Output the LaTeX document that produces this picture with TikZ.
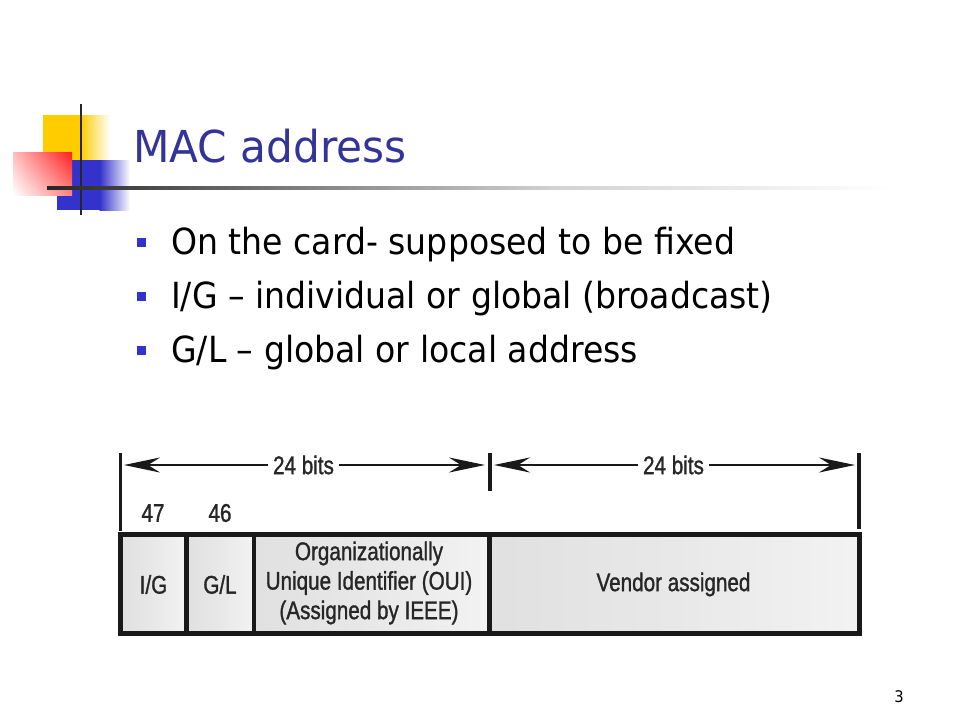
\documentclass[tikz,border=0pt]{standalone}
\usepackage{fontspec}
\setmainfont{DejaVu Sans}
\newfontfamily\tah[FakeStretch=0.92]{DejaVu Sans}
\newfontfamily\tahT[FakeStretch=0.96]{DejaVu Sans}
\newfontfamily\cnd[FakeStretch=0.81,FakeBold=1.2]{Liberation Sans}
\usetikzlibrary{arrows.meta,shadings}
\definecolor{titleblue}{RGB}{51,51,153}
\definecolor{bulletblue}{RGB}{51,51,204}
\definecolor{logoyellow}{RGB}{255,204,0}
\definecolor{logored}{RGB}{255,30,30}
\definecolor{logoblue}{RGB}{51,51,204}
\definecolor{ink}{RGB}{38,38,38}
\pgfdeclarehorizontalshading{rulefade}{100bp}{color(0bp)=(black!85); color(25bp)=(black!85); color(40bp)=(black!50); color(55bp)=(black!18); color(75bp)=(white); color(100bp)=(white)}
\pgfdeclarehorizontalshading{cellfade}{100bp}{color(0bp)=(black!12); color(25bp)=(black!12); color(50bp)=(black!9); color(75bp)=(black!5); color(100bp)=(black!5)}
\tikzset{
  bodytext/.style={anchor=base west, inner sep=0pt, font=\tah\fontsize{36}{43}\selectfont},
  bulletsq/.style={fill=bulletblue, minimum size=9pt, inner sep=0pt, draw=none},
  lbl/.style={inner sep=0pt, text=ink, font=\cnd\fontsize{25.5}{29.5}\selectfont, align=center},
  bitlbl/.style={lbl, fill=white, inner xsep=5pt, inner ysep=2pt},
  cell/.style={shading=cellfade},
  frame/.style={draw=black!90, line width=4.5pt},
  tick/.style={draw=black!90, line width=3.5pt},
  dimarrow/.style={draw=black!90, line width=2.8pt},
  bigtip/.tip={Stealth[length=36pt, width=15pt, inset=12pt]}
}
\begin{document}
\begin{tikzpicture}[x=1pt, y=-1pt]
\useasboundingbox (0,0) rectangle (960,720);
\fill[white] (0,0) rectangle (960,720);
% logo
\fill[logoyellow] (43,115) rectangle (81,160);
\shade[left color=logoyellow, right color=white] (80.5,115) rectangle (110,160);
\fill[logoblue] (57,160) rectangle (100,210);
\shade[left color=logoblue, right color=white] (99.5,160) rectangle (130,210);
\shade[upper right=logored, lower right=logored!55!white, upper left=logored!30!white, lower left=white] (13,152) rectangle (72,195);
\draw[black!85, line width=2.2pt] (81,104) -- (81,215);
\shade[shading=rulefade] (47,186.5) rectangle (890,189.5);
% title
\node[anchor=base west, inner sep=0pt, text=titleblue, font=\tahT\fontsize{44}{52}\selectfont] (title) at (133,162) {MAC address};
% bullets
\node[bulletsq] (b1) at (141.5,242) {};
\node[bulletsq] (b2) at (141.5,296) {};
\node[bulletsq] (b3) at (141.5,350) {};
\node[bodytext] (t1) at (171,254) {On the card- supposed to be fixed};
\node[bodytext] (t2) at (171,308) {I/G – individual or global (broadcast)};
\node[bodytext] (t3) at (171,362) {G/L – global or local address};
% bit field cells
\shade[cell] (120.5,534.5) rectangle (186.5,633.5);
\shade[cell] (186.5,534.5) rectangle (254,633.5);
\shade[cell] (254,534.5) rectangle (489.5,633.5);
\shade[cell] (489.5,534.5) rectangle (859.5,633.5);
\node[lbl] (ig) at (153.5,584.5) {I/G};
\node[lbl] (gl) at (220,584.5) {G/L};
\node[lbl] (oui) at (369,583) {Organizationally\\Unique Identifier (OUI)\\(Assigned by IEEE)};
\node[lbl] (vendor) at (673.5,584.5) {Vendor assigned};
\draw[frame] (120.5,534.5) rectangle (859.5,633.5);
\draw[frame] (186.5,534.5) -- (186.5,633.5);
\draw[frame] (254,534.5) -- (254,633.5);
\draw[frame] (489.5,534.5) -- (489.5,633.5);
% bit numbers
\node[lbl] (n47) at (153,513) {47};
\node[lbl] (n46) at (220,513) {46};
% dimension marks
\coordinate (lt1) at (120.5,453);
\coordinate (lt2) at (120.5,531);
\coordinate (mt1) at (490,453);
\coordinate (mt2) at (490,491);
\coordinate (rt1) at (859,453);
\coordinate (rt2) at (859,529);
\draw[tick, line width=3pt] (lt1) -- (lt2);
\draw[tick, line width=4.5pt] (mt1) -- (mt2);
\draw[tick] (rt1) -- (rt2);
\coordinate (a1) at (124,465);
\coordinate (a2) at (485,465);
\coordinate (a3) at (494,465);
\coordinate (a4) at (855,465);
\node[bitlbl] (w1) at (303.5,465) {24 bits};
\node[bitlbl] (w2) at (673.5,465) {24 bits};
\draw[dimarrow, {bigtip}-] (a1) -- (w1.west);
\draw[dimarrow, -{bigtip}] (w1.east) -- (a2);
\draw[dimarrow, {bigtip}-] (a3) -- (w2.west);
\draw[dimarrow, -{bigtip}] (w2.east) -- (a4);
% page number
\node[inner sep=0pt, font=\tah\fontsize{16}{19}\selectfont] (pg) at (899,697) {3};
\end{tikzpicture}
\end{document}
